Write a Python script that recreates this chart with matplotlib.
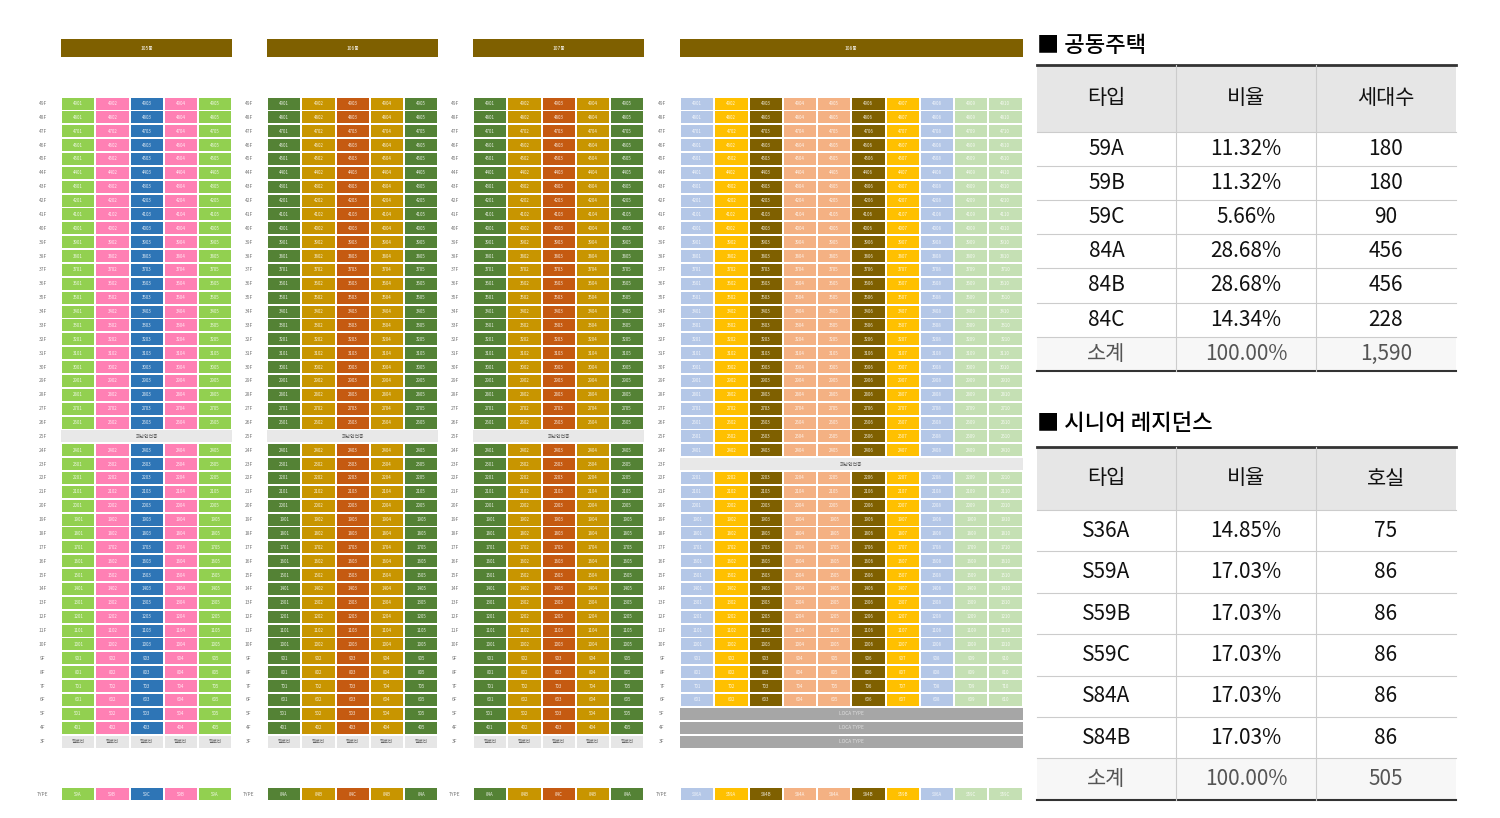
import matplotlib
matplotlib.use("Agg")
import matplotlib.pyplot as plt
from matplotlib.patches import Rectangle
from matplotlib import font_manager

avail = {f.name for f in font_manager.fontManager.ttflist}
cands = ["Noto Sans CJK KR", "Noto Sans CJK JP", "Noto Sans CJK SC", "Noto Sans CJK TC"]
FAM = [c for c in cands if c in avail] + ["DejaVu Sans"]
plt.rcParams["font.family"] = FAM

# ---- data ----
buildings = ["105동", "106동", "107동", "108동"]
building_types = [
    ["59A", "59B", "59C", "59B", "59A"],
    ["84A", "84B", "84C", "84B", "84A"],
    ["84A", "84B", "84C", "84B", "84A"],
    ["S36A", "S59A", "S84B", "S84A", "S84A", "S84B", "S59B", "S36A", "S59C", "S59C"],
]
refuge_floor = [25, 25, 25, 23]
piloti_floors = [[3], [3], [3], []]
loca_floors = [[], [], [], [5, 4, 3]]
top_floor = 49
bottom_floor = 3

type_colors = {
    "59A": "#92d050", "59B": "#ff80b4", "59C": "#2e75b6",
    "84A": "#548235", "84B": "#c89500", "84C": "#c55a11",
    "S36A": "#b4c7e7", "S59A": "#ffc000", "S59B": "#ffc000",
    "S84A": "#f4b183", "S84B": "#7f6000", "S59C": "#c5e0b4",
}

t1_title = "■ 공동주택"
t1_header = ["타입", "비율", "세대수"]
t1_types = ["59A", "59B", "59C", "84A", "84B", "84C", "소계"]
t1_ratio = ["11.32%", "11.32%", "5.66%", "28.68%", "28.68%", "14.34%", "100.00%"]
t1_count = ["180", "180", "90", "456", "456", "228", "1,590"]

t2_title = "■ 시니어 레지던스"
t2_header = ["타입", "비율", "호실"]
t2_types = ["S36A", "S59A", "S59B", "S59C", "S84A", "S84B", "소계"]
t2_ratio = ["14.85%", "17.03%", "17.03%", "17.03%", "17.03%", "17.03%", "100.00%"]
t2_count = ["75", "86", "86", "86", "86", "86", "505"]

# ---- layout ----
fig = plt.figure(figsize=(15, 8.18), dpi=100)
ax = fig.add_axes([0, 0, 1, 1])
ax.set_xlim(0, 1500)
ax.set_ylim(818, 0)
ax.axis("off")

bx0 = [61, 267, 473, 680]
cw = 34.25
row0 = 103.5
rstep = 13.87
rh = 12

for b, name in enumerate(buildings):
    types = building_types[b]
    n = len(types)
    x0 = bx0[b]
    width = n * cw
    ax.add_patch(Rectangle((x0, 39), width, 18, color="#7f6000", lw=0))
    ax.text(x0 + width / 2, 48, name, color="white", fontsize=3.5, ha="center", va="center")
    for i, fl in enumerate(range(top_floor, bottom_floor - 1, -1)):
        yc = row0 + i * rstep
        ax.text(x0 - 18, yc, f"{fl}F", fontsize=3.5, color="#777777", ha="center", va="center")
        if fl == refuge_floor[b]:
            ax.add_patch(Rectangle((x0, yc - rh / 2), width, rh, color="#e8e8e8", lw=0))
            ax.text(x0 + width / 2, yc, "피난안전층", fontsize=3.5, color="#555555", ha="center", va="center")
            continue
        if fl in loca_floors[b]:
            ax.add_patch(Rectangle((x0, yc - rh / 2), width, rh, color="#a6a6a6", lw=0))
            ax.text(x0 + width / 2, yc, "LOCA TYPE", fontsize=3.5, color="#dddddd", ha="center", va="center")
            continue
        for c, t in enumerate(types):
            if fl in piloti_floors[b]:
                ax.add_patch(Rectangle((x0 + c * cw + 1, yc - rh / 2), cw - 2, rh, color="#e6e6e6", lw=0))
                ax.text(x0 + c * cw + cw / 2, yc, "필로티", fontsize=3.5, color="#666666", ha="center", va="center")
            else:
                ax.add_patch(Rectangle((x0 + c * cw + 1, yc - rh / 2), cw - 2, rh, color=type_colors[t], lw=0))
                ax.text(x0 + c * cw + cw / 2, yc, f"{fl * 100 + c + 1}", fontsize=3.2, color="white", alpha=0.85, ha="center", va="center")
    ty = 794
    ax.text(x0 - 18, ty, "TYPE", fontsize=3.5, color="#777777", ha="center", va="center")
    for c, t in enumerate(types):
        ax.add_patch(Rectangle((x0 + c * cw + 1, ty - rh / 2), cw - 2, rh, color=type_colors[t], lw=0))
        ax.text(x0 + c * cw + cw / 2, ty, t, fontsize=3.2, color="white", alpha=0.85, ha="center", va="center")


def draw_table(title, title_y, top, head_h, row_h, header, col1, col2, col3):
    xs = [1037, 1176, 1316, 1456]
    ax.text(1037, title_y, title, fontsize=16, ha="left", va="center", color="black", fontweight="medium")
    ax.add_patch(Rectangle((xs[0], top), xs[-1] - xs[0], head_h, color="#e6e6e6", lw=0))
    ax.plot([xs[0], xs[-1]], [top, top], color="#333333", lw=2)
    for j in range(3):
        ax.text((xs[j] + xs[j + 1]) / 2, top + head_h / 2, header[j], fontsize=15, ha="center", va="center", color="#111111")
    n = len(col1)
    for i in range(n):
        y0 = top + head_h + i * row_h
        if i == n - 1:
            ax.add_patch(Rectangle((xs[0], y0), xs[-1] - xs[0], row_h, color="#f7f7f7", lw=0))
        ax.plot([xs[0], xs[-1]], [y0, y0], color="#cccccc", lw=0.8)
        for j, col in enumerate([col1, col2, col3]):
            ax.text((xs[j] + xs[j + 1]) / 2, y0 + row_h / 2, col[i], fontsize=15, ha="center", va="center",
                    color="#555555" if i == n - 1 else "#111111")
    bottom = top + head_h + n * row_h
    ax.plot([xs[0], xs[-1]], [bottom, bottom], color="#333333", lw=1.5)
    for x in xs[1:-1]:
        ax.plot([x, x], [top, bottom], color="#cccccc", lw=0.8)


draw_table(t1_title, 45, 65, 67, 34.1, t1_header, t1_types, t1_ratio, t1_count)
draw_table(t2_title, 423, 447, 63, 41.4, t2_header, t2_types, t2_ratio, t2_count)

fig.savefig("out.png", dpi=100)
